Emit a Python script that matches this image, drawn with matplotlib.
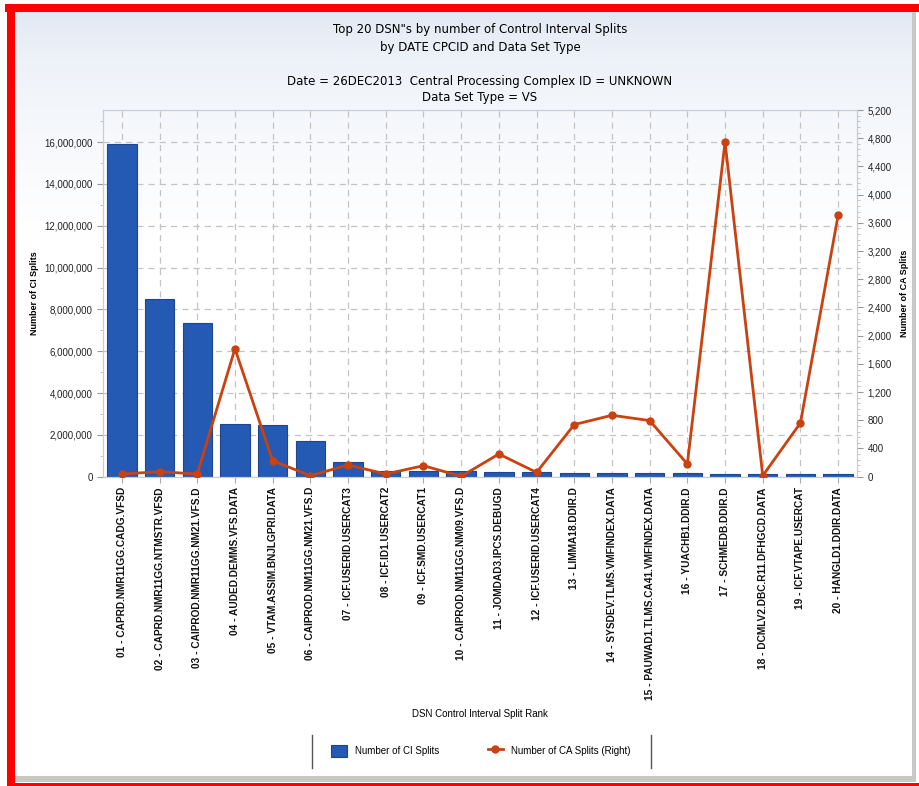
import numpy as np
import matplotlib
matplotlib.use("Agg")
import matplotlib.pyplot as plt
from matplotlib.lines import Line2D
from matplotlib.patches import Rectangle
from matplotlib.ticker import FuncFormatter, MultipleLocator

# data
dsn_labels = [
    "01 - CAPRD.NMR11GG.CADG.VFSD",
    "02 - CAPRD.NMR11GG.NTMSTR.VFSD",
    "03 - CAIPROD.NMR11GG.NM21.VFS.D",
    "04 - AUDED.DEMMS.VFS.DATA",
    "05 - VTAM.ASSIM.BNJLGPRI.DATA",
    "06 - CAIPROD.NM11GG.NM21.VFS.D",
    "07 - ICF.USERID.USERCAT3",
    "08 - ICF.ID1.USERCAT2",
    "09 - ICF.SMD.USERCAT1",
    "10 - CAIPROD.NM11GG.NM09.VFS.D",
    "11 - JOMDAD3.IPCS.DEBUGD",
    "12 - ICF.USERID.USERCAT4",
    "13 - LIMMA18.DDIR.D",
    "14 - SYSDEV.TLMS.VMFINDEX.DATA",
    "15 - PAUWAD1.TLMS.CA41.VMFINDEX.DATA",
    "16 - YUACHB1.DDIR.D",
    "17 - SCHMEDB.DDIR.D",
    "18 - DCMLV2.DBC.R11.DFHGCD.DATA",
    "19 - ICF.VTAPE.USERCAT",
    "20 - HANGLD1.DDIR.DATA",
]
ci_splits = [15890000, 8480000, 7370000, 2540000, 2460000, 1700000, 680000,
             290000, 270000, 250000, 240000, 210000, 190000, 180000, 170000,
             160000, 150000, 140000, 130000, 120000]
ca_splits = [38, 71, 38, 1815, 227, 14, 166, 38, 156, 5,
             322, 61, 739, 871, 796, 180, 4746, 14, 763, 3709]

title_lines = ["Top 20 DSN\"s by number of Control Interval Splits",
               "by DATE CPCID and Data Set Type", "",
               "Date = 26DEC2013  Central Processing Complex ID = UNKNOWN",
               "Data Set Type = VS"]

W, H = 920, 786
fig = plt.figure(figsize=(W / 100, H / 100), dpi=100)

# background panel: red frame, gradient, gray shadow
bg = fig.add_axes([0, 0, 1, 1], zorder=-10)
bg.set_xlim(0, W)
bg.set_ylim(H, 0)
bg.axis("off")
grad = np.linspace(0, 1, 300).reshape(-1, 1)
top_c = np.array([0.87, 0.90, 0.95])
img = top_c + (1 - top_c) * np.sqrt(grad)[..., None]
img = img.reshape(300, 1, 3)
bg.imshow(np.repeat(img, 2, axis=1), extent=[15, 912, 240, 12], aspect="auto")
bg.add_patch(Rectangle((15, 240), 897, 537, color="white", lw=0))
bg.add_patch(Rectangle((5, 4), 915, 8, color="#ff0000", lw=0))
bg.add_patch(Rectangle((7, 4), 8, 782, color="#ff0000", lw=0))
bg.add_patch(Rectangle((15, 776), 900, 6, color="#c8c8c8", lw=0))
bg.add_patch(Rectangle((912, 12), 4, 770, color="#c8c8c8", lw=0))
bg.add_patch(Rectangle((7, 783), 913, 3, color="#ff0000", lw=0))

ax = fig.add_axes([103 / W, 1 - 476.7 / H, 754 / W, 366.7 / H])
ax.patch.set_alpha(0)
x = np.arange(len(dsn_labels))
ax.bar(x, ci_splits, width=0.78, color="#2459b4", edgecolor="#1c468f",
       linewidth=0.8, label="Number of CI Splits", zorder=2)
ax.set_xlim(-0.5, len(x) - 0.5)
ax.set_ylim(0, 17530000)
ax.yaxis.set_major_locator(MultipleLocator(2000000))
ax.yaxis.set_minor_locator(MultipleLocator(1000000))
ax.yaxis.set_major_formatter(FuncFormatter(lambda v, p: f"{int(v):,}"))
ax.set_xticks(x)
ax.set_xticklabels(dsn_labels, rotation=90, fontsize=7.3, fontweight="bold",
                   family="Liberation Sans", va="top")
ax.tick_params(axis="y", labelsize=7, colors="#999999", labelcolor="#222222",
               length=4)
ax.tick_params(axis="y", which="minor", length=2, colors="#bbbbbb")
ax.tick_params(axis="x", length=4, colors="#aaaaaa", labelcolor="#111111")
for lab in ax.get_yticklabels():
    lab.set_family("Liberation Sans")
ax.grid(True, axis="both", linestyle=(0, (5, 4)), color="#c4c4c4",
        linewidth=0.9, zorder=0)
ax.set_axisbelow(True)
for s in ax.spines.values():
    s.set_color("#c8cdd5")
ax.set_ylabel("Number of CI Splits", fontsize=6.5, fontweight="bold",
              family="Liberation Sans", labelpad=4)
ax.set_xlabel("DSN Control Interval Split Rank", fontsize=7,
              family="Liberation Sans", labelpad=6)

ax2 = ax.twinx()
ax2.plot(x, ca_splits, color="#c9420f", linewidth=2, marker="o",
         markersize=5, label="Number of CA Splits (Right)", zorder=3)
ax2.set_ylim(0, 5200)
ax2.yaxis.set_major_locator(MultipleLocator(400))
ax2.yaxis.set_minor_locator(MultipleLocator(80))
ax2.yaxis.set_major_formatter(FuncFormatter(lambda v, p: f"{int(v):,}"))
ax2.tick_params(axis="y", labelsize=7, colors="#999999", labelcolor="#222222",
                length=4)
ax2.tick_params(axis="y", which="minor", length=2, colors="#bbbbbb")
for lab in ax2.get_yticklabels():
    lab.set_family("Liberation Sans")
for s in ax2.spines.values():
    s.set_color("#c8cdd5")
ax2.set_ylabel("Number of CA Splits", fontsize=6.5, fontweight="bold",
               family="Liberation Sans", labelpad=6)

# titles
ty = [30, 47, 64, 81, 98]
for t, yy in zip(title_lines, ty):
    fig.text(480 / W, 1 - yy / H, t, ha="center", va="center", fontsize=8.5,
             family="DejaVu Sans")

h1, l1 = ax.get_legend_handles_labels()
h2, l2 = ax2.get_legend_handles_labels()
fig.legend(h1 + h2, l1 + l2, loc="center", bbox_to_anchor=(481 / W, 1 - 751 / H),
           ncol=2, frameon=False, prop={"family": "Liberation Sans", "size": 7},
           columnspacing=5, handlelength=1.6, handleheight=1.6)
for xx in (312, 651):
    fig.add_artist(Line2D([xx / W, xx / W], [1 - 735 / H, 1 - 768 / H],
                          color="#555555", linewidth=1))

fig.savefig("out.png", dpi=100)
